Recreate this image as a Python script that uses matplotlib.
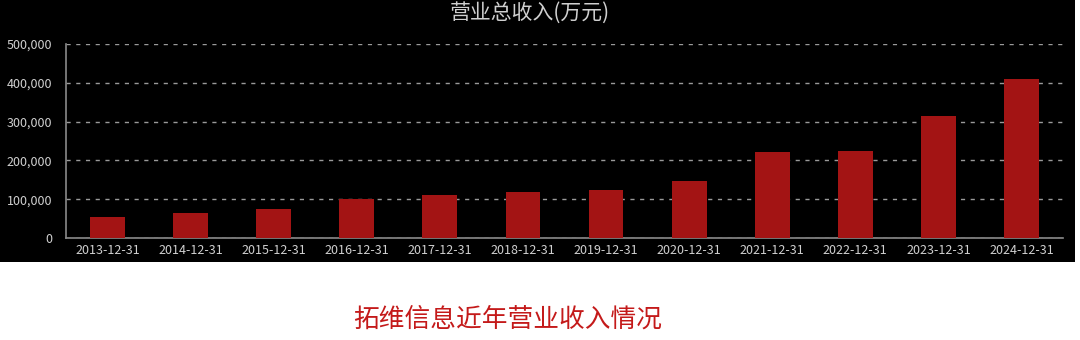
import matplotlib
matplotlib.use("Agg")
import matplotlib.pyplot as plt
from matplotlib.patches import Rectangle
from matplotlib.ticker import FuncFormatter

plt.rcParams['font.family'] = ['Noto Sans CJK SC', 'DejaVu Sans']

dates = ["2013-12-31", "2014-12-31", "2015-12-31", "2016-12-31", "2017-12-31",
         "2018-12-31", "2019-12-31", "2020-12-31", "2021-12-31", "2022-12-31",
         "2023-12-31", "2024-12-31"]
revenue = [55000, 65000, 76000, 101000, 111000, 118000, 123000, 148000,
           222000, 223000, 314000, 410000]

W, H = 1080, 340
fig = plt.figure(figsize=(W / 100, H / 100), dpi=100)
fig.patch.set_facecolor("white")

# black panel behind the chart
fig.patches.append(Rectangle((0, (H - 262) / H), 1075 / W, 262 / H,
                             transform=fig.transFigure, facecolor="black",
                             edgecolor="none", zorder=-5))

ax = fig.add_axes([66 / W, (H - 238) / H, (1063 - 66) / W, (238 - 44) / H])
ax.set_zorder(2)
ax.set_facecolor("black")
ax.bar(range(len(dates)), revenue, width=0.42, color="#a31414", zorder=3)

ax.set_xlim(-0.5, len(dates) - 0.5)
ax.set_ylim(0, 500000)
ax.set_yticks(range(0, 500001, 100000))
ax.yaxis.set_major_formatter(FuncFormatter(lambda v, p: f"{int(v):,}"))
ax.set_xticks(range(len(dates)))
ax.set_xticklabels(dates)
ax.tick_params(colors="#d0d0d0", labelsize=9, length=0)
ax.tick_params(axis="x", pad=4)
ax.tick_params(axis="y", pad=10)
ax.grid(axis="y", color="#9a9a9a", linestyle=(0, (3, 4)), linewidth=1, zorder=1)
for s in ["top", "right"]:
    ax.spines[s].set_visible(False)
for s in ["left", "bottom"]:
    ax.spines[s].set_color("#8a8a8a")
    ax.spines[s].set_linewidth(1.2)

fig.text(530 / W, 1 - 13 / H, "营业总收入(万元)", ha="center", va="center",
         color="#cfcfcf", fontsize=15, fontweight="medium", zorder=3)
fig.text(508 / W, 1 - 320 / H, "拓维信息近年营业收入情况", ha="center",
         va="center", color="#c41a1a", fontsize=18.5)

fig.savefig("out.png", dpi=100, facecolor=fig.get_facecolor())
